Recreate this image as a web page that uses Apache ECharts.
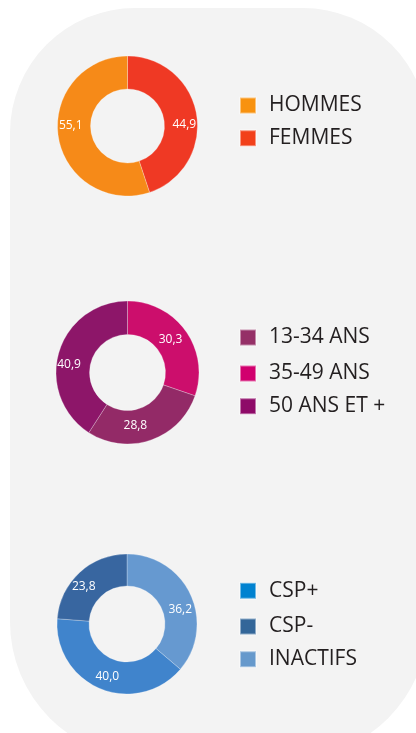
<!DOCTYPE html>
<html>
<head>
<meta charset="utf-8">
<script src="https://cdn.jsdelivr.net/npm/echarts@6/dist/echarts.min.js"></script>
<style>
html,body{margin:0;padding:0;background:#ffffff;}
#chart{width:416px;height:733px;}
</style>
</head>
<body>
<div id="chart"></div>
<script>
// ---- data ----
const sexCategories = ['FEMMES', 'HOMMES'];
const sexValues = [44.9, 55.1];
const sexLegendOrder = ['HOMMES', 'FEMMES'];

const ageCategories = ['35-49 ANS', '13-34 ANS', '50 ANS ET +'];
const ageValues = [30.3, 28.8, 40.9];
const ageLegendOrder = ['13-34 ANS', '35-49 ANS', '50 ANS ET +'];

const cspCategories = ['INACTIFS', 'CSP+', 'CSP-'];
const cspValues = [36.2, 40.0, 23.8];
const cspLegendOrder = ['CSP+', 'CSP-', 'INACTIFS'];

// ---- styles ----
const sliceColors = {
  'HOMMES': '#f68a18', 'FEMMES': '#ef3924',
  '13-34 ANS': '#932a67', '35-49 ANS': '#cc0e6c', '50 ANS ET +': '#8d1669',
  'CSP+': '#4084cc', 'CSP-': '#3866a0', 'INACTIFS': '#6699d0'
};
const legendColors = {
  'HOMMES': '#f8920f', 'FEMMES': '#f2401a',
  '13-34 ANS': '#953067', '35-49 ANS': '#d1006e', '50 ANS ET +': '#8e0a68',
  'CSP+': '#0082d0', 'CSP-': '#336699', 'INACTIFS': '#6699cc'
};
const labelOffsets = {
  'FEMMES': [1, 8], 'HOMMES': [-1, -9],
  '35-49 ANS': [-4, 1], '13-34 ANS': [-11, -1], '50 ANS ET +': [-3, 8.5],
  'INACTIFS': [1.5, 9.5], 'CSP+': [2, 0], 'CSP-': [-4.5, 4]
};
const groups = [
  {cats: sexCategories, vals: sexValues, order: sexLegendOrder, center: [127.5, 126], radius: [37, 70], legendTops: [95, 127.7]},
  {cats: ageCategories, vals: ageValues, order: ageLegendOrder, center: [127.5, 372.5], radius: [38, 71.5], legendTops: [327, 363, 395.7]},
  {cats: cspCategories, vals: cspValues, order: cspLegendOrder, center: [127, 624], radius: [38, 70], legendTops: [580.3, 616, 648.7]}
];

const FONT = '"Open Sans", "Noto Sans", sans-serif';
const fmt = v => v.toFixed(1).replace('.', ',');

const series = [];
const legends = [];
groups.forEach((g, gi) => {
  series.push({
    type: 'pie',
    center: g.center,
    radius: g.radius,
    startAngle: 90,
    clockwise: true,
    avoidLabelOverlap: false,
    silent: true,
    animation: false,
    itemStyle: {borderColor: 'rgba(255,255,255,0.45)', borderWidth: 0.6},
    label: {
      show: true, position: 'inside', color: '#ffffff',
      fontFamily: FONT, fontSize: 12,
      formatter: p => fmt(p.value)
    },
    labelLine: {show: false},
    emphasis: {disabled: true},
    data: g.cats.map((c, i) => ({
      name: c, value: g.vals[i],
      itemStyle: {color: sliceColors[c]},
      label: {offset: labelOffsets[c]}
    }))
  });
  g.order.forEach((name, k) => {
    legends.push({
      orient: 'vertical',
      left: 239, top: g.legendTops[k],
      icon: 'rect', itemWidth: 16, itemHeight: 16,
      selectedMode: false,
      padding: 0,
      textStyle: {color: '#231f20', fontFamily: FONT, fontSize: 21, lineHeight: 16, padding: [0, 0, 0, 8]},
      data: [{name: name, itemStyle: {color: legendColors[name]}}]
    });
  });
});

const chart = echarts.init(document.getElementById('chart'), null, {renderer: 'canvas'});
chart.setOption({
  backgroundColor: 'transparent',
  animation: false,
  graphic: [{
    type: 'rect', z: -10, silent: true,
    shape: {x: 10, y: 8, width: 418, height: 750, r: [125, 125, 136, 136]},
    style: {fill: '#f3f3f3'}
  }],
  legend: legends,
  series: series
});
</script>
</body>
</html>
